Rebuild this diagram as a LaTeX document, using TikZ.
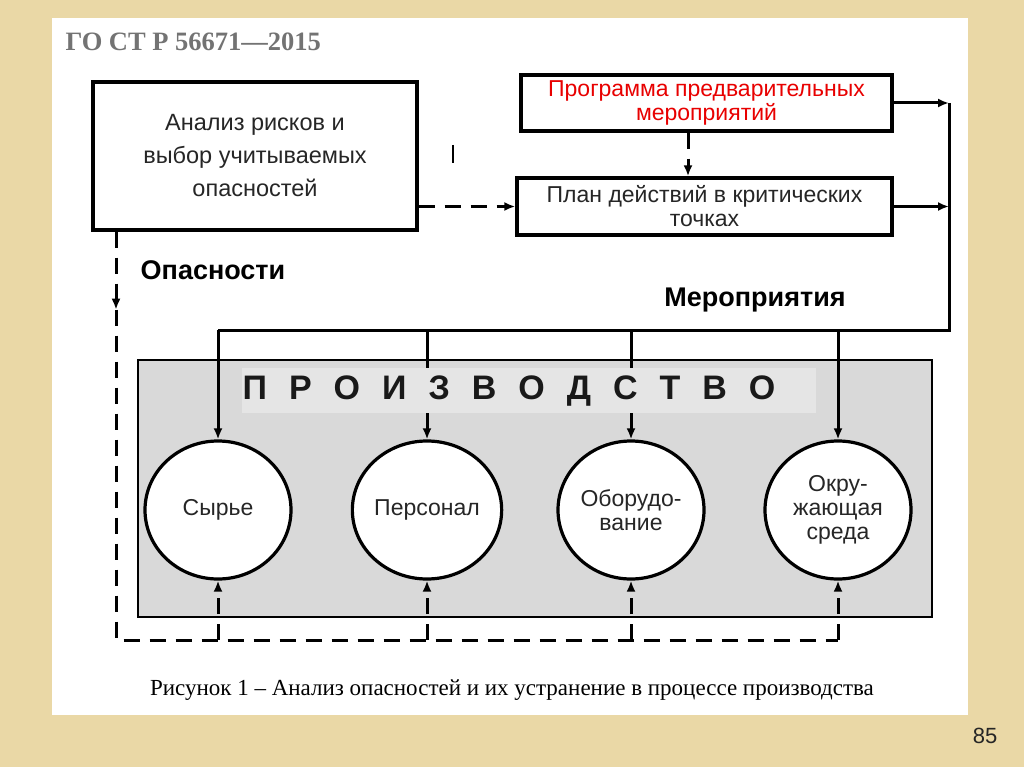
\documentclass[tikz,border=0pt]{standalone}
\usepackage{fontspec}
\setmainfont{Liberation Sans}
\newfontfamily\capfont{Liberation Serif}
\usetikzlibrary{arrows.meta,positioning,calc,shapes.geometric}

\definecolor{paper}{RGB}{234,216,166}
\definecolor{shop}{RGB}{217,217,217}
\definecolor{band}{RGB}{229,229,229}
\definecolor{gost}{RGB}{115,115,115}
\definecolor{redtext}{RGB}{232,0,0}

\begin{document}
\begin{tikzpicture}[x=1pt, y=-1pt,
  box/.style={draw, line width=3.4pt, fill=white, align=center, inner sep=0pt, text=black!85, font=\fontsize{23}{24}\selectfont},
  res/.style={draw, ellipse, line width=3.2pt, fill=white, minimum width=146pt, minimum height=138pt, inner sep=0pt, align=center, text=black!85, font=\fontsize{23}{24}\selectfont},
  conn/.style={line width=3pt, -{Latex[length=11pt,width=9pt]}},
  bus/.style={line width=3pt},
  dline/.style={line width=3pt, dash pattern=on 16pt off 10pt},
  tip/.style={-{Latex[length=11pt,width=9pt]}},
  lbl/.style={font=\fontsize{27}{28}\selectfont\bfseries}
]

% page and sheet
\fill[paper] (0,0) rectangle (1024,767);
\fill[white] (52,18) rectangle (968,715);
\node[font=\capfont\fontsize{26.5}{26.5}\selectfont\bfseries, text=gost, anchor=west] (gost) at (62,42) {ГО СТ Р 56671—2015};

% upper blocks
\node[box, minimum width=324pt, minimum height=148pt, font=\fontsize{23.5}{33}\selectfont] (A) at (255,156) {Анализ рисков и\\выбор учитываемых\\опасностей};
\node[box, minimum width=371pt, minimum height=56pt, text=redtext] (P) at (706.5,103) {Программа предварительных\\мероприятий};
\node[box, minimum width=375pt, minimum height=57pt] (K) at (704.5,206.5) {План действий в критических\\точках};
\draw[line width=2.4pt] (453,145) -- (453,163);

% production
\node[draw, line width=2.8pt, fill=shop, minimum width=794pt, minimum height=257pt] (prod) at (535,488.5) {};
\foreach \i/\x/\txt in {1/218/Сырье, 2/427/Персонал, 3/631/{Оборудо-\\вание}, 4/838/{Окру-\\жающая\\среда}}
  \node[res] (c\i) at (\x,510) {\txt};

\coordinate (vbus) at (949,330);
\coordinate (hz) at (116,640);
\coordinate (pk) at (688,0);

\draw[conn] (P.east) -- (P.east -| vbus);
\draw[conn] (K.east) -- (K.east -| vbus);
\draw[bus] (P.east -| vbus) -- (vbus) -- (vbus -| c1);
\foreach \i in {1,...,4}
  \draw[conn] (vbus -| c\i) -- (c\i.north);

\node[fill=band, minimum width=574pt, minimum height=45pt, inner sep=0pt] (bandbox) at (529,390.5) {};
\node[font=\fontsize{34}{34}\selectfont\bfseries, text=black!90] (ptitle) at (509,391) {\spaceskip=22pt П Р О И З В О Д С Т В О};

% dashed links
\draw[dline, tip] (P.south -| pk) -- (K.north -| pk);
\draw[dline, tip] (A.east |- K) -- (K.west);
\draw[dline, tip] (A.south -| hz) -- ++(0,78) coordinate (hm);
\draw[dline] (hm) -- (hz) -- (hz -| c4);
\foreach \i in {1,...,4}
  \draw[dline, tip] (hz -| c\i) -- (c\i.south);

\node[lbl] (haz) at (213,270) {Опасности};
\node[lbl] (meas) at (755,300) {Мероприятия};

\node[font=\capfont\fontsize{23}{23}\selectfont] (cap) at (512,690) {Рисунок 1 – Анализ опасностей и их устранение в процессе производства};
\node[font=\fontsize{22}{22}\selectfont, text=black!85] (pg) at (985,736) {85};

\end{tikzpicture}
\end{document}
